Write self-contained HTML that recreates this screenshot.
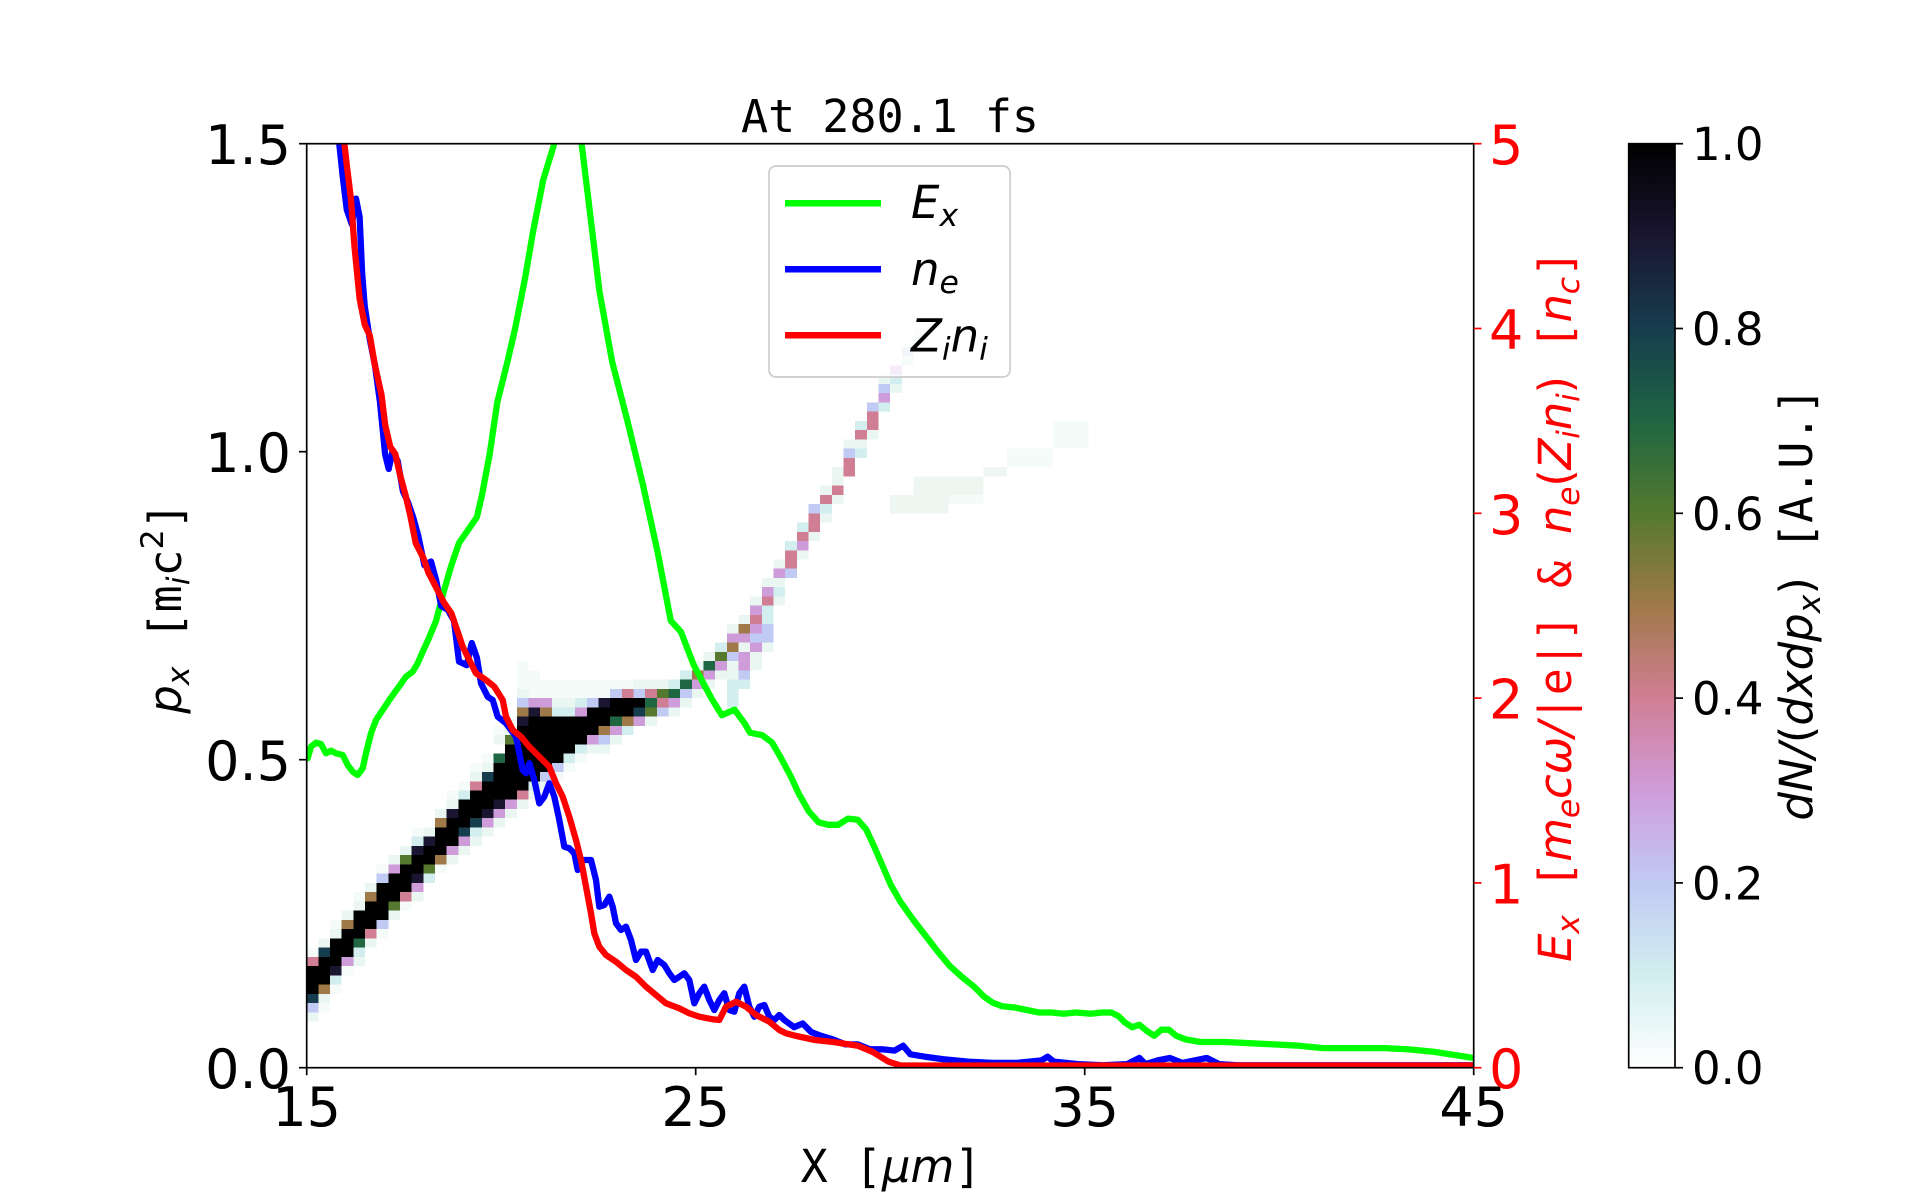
<!DOCTYPE html>
<html>
<head>
<meta charset="utf-8">
<style>
html,body{margin:0;padding:0;background:#fff;width:1920px;height:1200px;overflow:hidden}
svg{display:block}
.K{fill:#000}.N{fill:#1a1530}.T{fill:#163d4e}.G{fill:#1f6642}.O{fill:#54792f}.B{fill:#a07949}
.P{fill:#d07e93}.L{fill:#cf9cda}.U{fill:#c1caf3}.C{fill:#d2eeef}.W{fill:#e9f6f1}.F{fill:#f5fbf8}.Q{fill:#eef6f1}
.tk{font-family:"DejaVu Sans",sans-serif;font-size:54px}
.tk2{font-family:"DejaVu Sans",sans-serif;font-size:45px}
.mono{font-family:"DejaVu Sans Mono",monospace}
.it{font-family:"DejaVu Sans",sans-serif;font-style:italic}
.rm{font-family:"DejaVu Sans",sans-serif}
</style>
</head>
<body>
<svg width="1920" height="1200" viewBox="0 0 1920 1200">
<defs>
<clipPath id="ax"><rect x="306.7" y="143.7" width="1167" height="924"/></clipPath>
<linearGradient id="cb" x1="0" y1="1" x2="0" y2="0">
<stop offset="0" stop-color="#ffffff"/>
<stop offset="0.1" stop-color="#d2eeef"/>
<stop offset="0.2" stop-color="#c1caf3"/>
<stop offset="0.3" stop-color="#cf9cda"/>
<stop offset="0.4" stop-color="#d07e93"/>
<stop offset="0.5" stop-color="#a07949"/>
<stop offset="0.6" stop-color="#54792f"/>
<stop offset="0.7" stop-color="#1f6642"/>
<stop offset="0.8" stop-color="#163d4e"/>
<stop offset="0.9" stop-color="#1a1530"/>
<stop offset="1" stop-color="#000000"/>
</linearGradient>
</defs>

<!-- histogram -->
<g clip-path="url(#ax)">
<g transform="translate(306.7,1067.7) scale(11.67,-9.24)" shape-rendering="crispEdges">
<path class="F" d="M0 12h1v1h-1zM1 6h1v1h-1zM2 8h1v1h-1zM2 15h1v1h-1zM3 10h1v1h-1zM4 18h1v1h-1zM6 14h1v1h-1zM6 21h1v1h-1zM8 17h1v1h-1zM9 25h1v1h-1zM11 21h1v1h-1zM12 29h1v1h-1zM13 30h1v1h-1zM14 32h1v1h-1zM15 33h1v1h-1zM16 36h1v1h-1zM17 37h1v1h-1zM18 41h1v3h-1zM19 40h1v3h-1zM20 40h1v2h-1zM21 31h1v1h-1zM21 40h1v2h-1zM22 32h1v1h-1zM22 40h1v2h-1zM23 33h1v1h-1zM23 40h1v2h-1zM24 40h1v2h-1zM25 40h1v2h-1zM26 41h1v1h-1zM27 41h1v1h-1zM55 61h3v1h-3zM60 65h4v2h-4zM64 67h3v3h-3z"/>
<path class="Q" d="M50 60h5v2h-5zM52 62h6v2h-6zM58 64h2v1h-2z"/>
<path class="W" d="M0 5h1v1h-1zM1 7h1v1h-1zM1 13h1v1h-1zM2 14h1v1h-1zM3 16h1v1h-1zM4 11h1v1h-1zM4 17h1v1h-1zM5 13h1v1h-1zM5 19h1v1h-1zM7 16h1v1h-1zM7 22h1v1h-1zM8 23h1v1h-1zM9 18h1v1h-1zM10 25h1v1h-1zM11 27h1v1h-1zM12 22h1v1h-1zM12 28h1v1h-1zM13 23h1v1h-1zM14 24h1v1h-1zM14 31h1v1h-1zM15 25h1v1h-1zM15 32h1v1h-1zM16 26h1v1h-1zM16 35h1v1h-1zM17 27h1v1h-1zM17 36h1v1h-1zM18 28h1v1h-1zM18 40h1v1h-1zM19 29h1v1h-1zM20 30h1v1h-1zM21 39h1v1h-1zM22 39h1v1h-1zM24 34h1v1h-1zM25 34h1v1h-1zM26 35h1v1h-1zM28 41h1v1h-1zM29 37h1v1h-1zM29 41h1v1h-1zM30 41h1v1h-1zM31 38h1v1h-1zM32 39h1v1h-1zM33 40h1v1h-1zM33 43h1v1h-1zM34 41h1v1h-1zM34 44h1v1h-1zM35 42h1v1h-1zM36 42h1v2h-1zM36 47h1v1h-1zM37 45h1v1h-1zM37 48h1v1h-1zM38 43h1v2h-1zM38 50h1v1h-1zM39 45h1v1h-1zM39 52h1v1h-1zM40 50h1v1h-1zM40 52h1v1h-1zM40 54h1v1h-1zM42 55h1v1h-1zM43 57h1v1h-1zM44 59h1v1h-1zM44 62h1v1h-1zM45 61h1v1h-1zM45 63h1v2h-1zM46 67h1v1h-1zM47 67h1v1h-1zM48 68h1v1h-1zM49 74h1v1h-1zM50 73h1v1h-1zM52 79h1v1h-1z"/>
<path class="C" d="M2 9h1v1h-1zM4 12h1v1h-1zM9 24h1v1h-1zM10 20h1v1h-1zM13 29h1v1h-1zM14 25h1v1h-1zM19 30h1v1h-1zM21 38h1v1h-1zM22 33h1v1h-1zM22 38h1v1h-1zM23 34h1v1h-1zM23 39h1v1h-1zM27 36h1v1h-1zM31 41h1v1h-1zM32 42h1v1h-1zM35 45h1v1h-1zM36 39h1v3h-1zM37 41h1v1h-1zM39 48h1v2h-1zM40 51h1v1h-1zM41 56h1v1h-1zM42 58h1v1h-1zM44 60h1v1h-1zM47 66h1v1h-1zM47 69h1v1h-1zM49 71h1v1h-1zM50 74h1v1h-1zM51 76h1v1h-1zM52 78h1v1h-1z"/>
<path class="U" d="M0 6h1v1h-1zM6 15h1v1h-1zM6 20h1v1h-1zM18 39h1v1h-1zM20 31h1v1h-1zM21 32h1v1h-1zM24 39h1v1h-1zM25 35h1v1h-1zM26 40h1v1h-1zM28 40h1v1h-1zM30 38h1v1h-1zM32 40h1v1h-1zM36 44h1v1h-1zM37 42h1v1h-1zM38 46h1v1h-1zM39 46h1v2h-1zM41 53h1v1h-1zM43 60h1v1h-1zM46 66h1v1h-1zM48 71h1v1h-1zM49 73h1v1h-1zM51 77h1v1h-1z"/>
<path class="L" d="M3 11h1v1h-1zM7 21h1v1h-1zM9 19h1v1h-1zM12 23h1v1h-1zM13 24h1v1h-1zM15 26h1v1h-1zM16 27h1v1h-1zM17 28h1v1h-1zM19 39h1v1h-1zM20 39h1v1h-1zM23 38h1v1h-1zM24 35h1v1h-1zM26 36h1v1h-1zM28 37h1v1h-1zM31 39h1v1h-1zM33 41h1v1h-1zM34 42h1v1h-1zM35 43h1v1h-1zM36 46h1v1h-1zM37 43h1v2h-1zM37 46h1v1h-1zM38 45h1v1h-1zM38 47h1v1h-1zM38 49h1v1h-1zM39 51h1v1h-1zM40 53h1v1h-1zM42 56h1v1h-1zM49 72h1v1h-1zM50 75h1v1h-1z"/>
<path class="P" d="M0 11h1v1h-1zM5 14h1v1h-1zM8 18h1v1h-1zM14 30h1v1h-1zM18 29h1v1h-1zM27 40h1v1h-1zM29 40h1v1h-1zM30 39h1v1h-1zM38 48h1v1h-1zM39 50h1v1h-1zM41 54h1v2h-1zM42 57h1v1h-1zM43 58h1v2h-1zM44 61h1v1h-1zM45 62h1v1h-1zM46 64h1v2h-1zM47 68h1v1h-1zM48 69h1v2h-1z"/>
<path class="B" d="M1 8h1v1h-1zM3 15h1v1h-1zM5 18h1v1h-1zM11 22h1v1h-1zM11 26h1v1h-1zM18 38h1v1h-1zM20 38h1v1h-1zM25 36h1v1h-1zM27 37h1v1h-1zM33 42h1v1h-1zM36 45h1v1h-1zM37 47h1v1h-1z"/>
<path class="O" d="M7 17h1v1h-1zM8 22h1v1h-1zM10 21h1v1h-1zM17 35h1v1h-1zM29 38h1v1h-1zM30 40h1v1h-1zM35 44h1v1h-1z"/>
<path class="G" d="M4 13h1v1h-1zM16 33h1v1h-1zM26 37h1v1h-1zM29 39h1v1h-1zM31 40h1v1h-1zM32 41h1v1h-1zM34 43h1v1h-1z"/>
<path class="T" d="M0 7h1v1h-1zM1 12h1v1h-1zM13 25h1v1h-1zM14 26h1v1h-1zM15 31h1v1h-1zM28 38h1v1h-1z"/>
<path class="N" d="M2 10h1v1h-1zM9 20h1v1h-1zM9 23h1v1h-1zM10 24h1v1h-1zM12 27h1v1h-1zM15 27h1v1h-1zM16 28h1v1h-1zM18 37h1v1h-1zM19 38h1v1h-1zM25 39h1v1h-1z"/>
<path class="K" d="M0 8h1v3h-1zM1 9h1v3h-1zM2 11h1v3h-1zM3 12h1v3h-1zM4 14h1v3h-1zM5 15h1v3h-1zM6 16h1v4h-1zM7 18h1v3h-1zM8 19h1v3h-1zM9 21h1v2h-1zM10 22h1v2h-1zM11 23h1v3h-1zM12 24h1v3h-1zM13 26h1v3h-1zM14 27h1v3h-1zM15 28h1v3h-1zM16 29h1v4h-1zM17 29h1v6h-1zM18 30h1v7h-1zM19 31h1v7h-1zM20 32h1v6h-1zM21 33h1v5h-1zM22 34h1v4h-1zM23 35h1v3h-1zM24 36h1v3h-1zM25 37h1v2h-1zM26 38h1v2h-1zM27 38h1v2h-1zM28 39h1v1h-1z"/>
</g>

<!-- curves -->
<g fill="none" stroke-width="6.3" stroke-linejoin="round" stroke-linecap="round">
<polyline stroke="#00ff00" points="307.7,758.3 311,746.7 316,742.7 321,744 326,753.3 331,750.7 336,753.3 342.7,755 347.7,765 352.7,771.7 357.7,775 362.7,768.3 366,753.3 371,733.3 376,720 382.7,710 389.3,700 397.7,688.3 406,676.7 412.7,671.7 417.7,663.3 422.7,651.7 428.4,639.3 436.1,620.8 443.8,591.1 451.4,565.2 459,543 469.3,528.2 476.9,517.1 482,494.9 489.7,454 497.3,402.3 507.5,361.5 515.2,328.2 525.4,276.3 533,231.9 543.2,180 554.5,143 558,125 578,125 581.5,143 589.2,206 599.4,291 612.1,361.5 627.4,420.8 642.7,483.7 658,554 670.8,620.8 681,631.9 693.8,665.2 711.6,698.6 721.8,715.2 734.6,709.7 744.8,723.7 750,732.7 762.2,735.2 772,742.5 780.6,757.3 790.4,775.7 799,794.1 808.8,811.3 818.6,822.3 828.4,824.8 838.2,824.8 848,818.6 857.8,819.8 866.3,829.6 873.7,845.6 882.3,865.3 890.8,884.9 900.6,902.1 912.9,919.3 925.1,935.2 937.4,951.1 949.6,965.8 961.9,976.9 974.1,986.7 983.9,996.5 992.5,1002.6 1002.3,1006.3 1014.5,1007.5 1026.8,1010 1039,1012.5 1051.3,1012.5 1063.5,1013.7 1075.8,1012.5 1090.4,1013.7 1102.7,1012.5 1111.3,1012.5 1118.6,1016.2 1124.7,1022.3 1132.1,1027.2 1139.4,1024.8 1146.8,1030.9 1154.1,1035.8 1161.5,1029.7 1168.8,1029.7 1176.2,1035.8 1186,1039.5 1200.7,1042 1225.2,1042 1249.6,1043.2 1274.1,1044.4 1298.6,1045.7 1323.1,1048.1 1359.9,1048.1 1384.4,1048.1 1408.9,1049.4 1433.4,1051.8 1457.9,1055.5 1480,1059"/>
<polyline stroke="#0000ff" points="338,130 339.2,143 342.7,176.3 346.8,209.7 351.9,224.5 356,198.6 359.6,217 362.1,272.6 364.7,306 369.8,339.3 374.9,365.2 380,402.3 385.1,454.1 388.7,468.9 392.7,450.4 397.8,461.5 402.9,491.1 408,502.3 413.1,517.1 418.2,535.6 424.4,565.2 431,561.5 436.1,580 441.2,606 447.8,609.7 454,620.8 459,661.5 466.7,665.2 471.8,643 476.9,657.8 481,683.3 487.7,696.7 492.7,700 497.7,716.7 506,723.3 511,730 516,736.7 519.3,753.3 522.7,770 526,773.3 529.3,763.3 534.3,780 539.3,803.3 544.3,796.7 549.3,783.3 554.3,796.7 559.3,820 564.3,846.7 569.3,848.3 574.3,853.3 577.7,870 582.7,860 591,860 596,880 599.3,906.7 604.3,905 609.3,896.7 612.7,906.7 616,923.3 621,930 626,926.7 631,940 636,960 641,951.7 646,951.7 652.7,970 657.7,960 664.3,965 669.3,973.3 674.3,980 679.3,976.7 684.3,973.3 689.3,980 694.3,1003.3 699.3,993.3 704.3,986.7 709.3,1000 714.3,1010 719.3,1000 724.3,993.3 729.3,1010 734.3,1011.7 739.3,993.3 744.3,986.7 749.3,1006.7 754.3,1016.7 759.3,1006.7 764.3,1005 769.3,1016.7 774.3,1020 779.3,1015 784.3,1020 794.1,1027.2 802.7,1023.5 811.2,1032.1 821,1035.8 833.3,1039.5 845.5,1044.4 857.8,1044.4 870,1049.3 882.3,1049.3 894.5,1050.6 903.1,1045.7 910.4,1054.3 925.1,1056.7 943.5,1059.2 968,1061.6 992.5,1062.9 1017,1062.9 1041.5,1060.4 1047.6,1056.7 1053.7,1061.6 1078.2,1064.1 1102.7,1065.3 1127.2,1064.1 1139.4,1058 1145.5,1064.1 1157.8,1060.4 1170,1058 1182.3,1062.9 1194.5,1060.4 1206.8,1058 1219,1064.1 1237.4,1065.3 1480,1065.3"/>
<polyline stroke="#ff0000" points="343,130 344.3,143 346.8,165.2 350.9,198.6 354.5,246.7 359.6,298.6 364.7,324.5 369.8,335.6 374.9,365.2 381.5,394.9 385.1,424.5 390.2,446.7 395.3,454.1 400.4,476.3 405.5,494.9 410.6,517.1 415.7,543 423.3,557.8 428.4,572.6 436.1,587.4 443.8,602.3 451.4,613.4 459,635.6 462.7,646.7 469.3,660 476,673.3 486,680 494.3,686.7 502.7,700 506,716.7 512.7,730 521,736.7 529.3,746.7 539.3,756.7 549.3,766.7 556,783.3 562.7,796.7 569.3,816.7 576,840 581,860 586,886.7 591,913.3 594.3,933.3 599.3,946.7 606,955 616,961.7 626,970 636,976.7 646,986.7 656,995 666,1003.3 679.3,1008.3 689.3,1013.3 699.3,1016.7 712.7,1019.3 719.3,1020 726,1006.7 736,1001.7 746,1006.7 756,1015 769.3,1021.7 779.3,1030 786,1033.3 796.5,1036 814.9,1040 833.3,1042 857.8,1045.7 872.5,1051.8 888.4,1061.6 900.6,1065.5 1480,1065.5"/>
</g>
</g>

<!-- axes frame -->
<rect x="306.7" y="143.7" width="1167" height="924" fill="none" stroke="#000" stroke-width="1.7"/>

<!-- ticks -->
<g stroke="#000" stroke-width="1.7">
<line x1="299" y1="1067.7" x2="306.7" y2="1067.7"/>
<line x1="299" y1="759.7" x2="306.7" y2="759.7"/>
<line x1="299" y1="451.7" x2="306.7" y2="451.7"/>
<line x1="299" y1="143.7" x2="306.7" y2="143.7"/>
<line x1="306.7" y1="1067.7" x2="306.7" y2="1075.2"/>
<line x1="695.7" y1="1067.7" x2="695.7" y2="1075.2"/>
<line x1="1084.7" y1="1067.7" x2="1084.7" y2="1075.2"/>
<line x1="1473.7" y1="1067.7" x2="1473.7" y2="1075.2"/>
<line x1="1675" y1="1067.7" x2="1683" y2="1067.7"/>
<line x1="1675" y1="882.9" x2="1683" y2="882.9"/>
<line x1="1675" y1="698.1" x2="1683" y2="698.1"/>
<line x1="1675" y1="513.3" x2="1683" y2="513.3"/>
<line x1="1675" y1="328.5" x2="1683" y2="328.5"/>
<line x1="1675" y1="143.7" x2="1683" y2="143.7"/>
</g>
<g stroke="#ff0000" stroke-width="1.7">
<line x1="1473.7" y1="1067.7" x2="1481.5" y2="1067.7"/>
<line x1="1473.7" y1="882.9" x2="1481.5" y2="882.9"/>
<line x1="1473.7" y1="698.1" x2="1481.5" y2="698.1"/>
<line x1="1473.7" y1="513.3" x2="1481.5" y2="513.3"/>
<line x1="1473.7" y1="328.5" x2="1481.5" y2="328.5"/>
<line x1="1473.7" y1="143.7" x2="1481.5" y2="143.7"/>
</g>

<!-- tick labels -->
<g class="tk" fill="#000" text-anchor="end">
<text x="291" y="1088.2">0.0</text>
<text x="291" y="780.2">0.5</text>
<text x="291" y="472.2">1.0</text>
<text x="291" y="164.2">1.5</text>
</g>
<g class="tk" fill="#000" text-anchor="middle">
<text x="306.7" y="1126">15</text>
<text x="695.7" y="1126">25</text>
<text x="1084.7" y="1126">35</text>
<text x="1473.7" y="1126">45</text>
</g>
<g class="tk" fill="#ff0000">
<text x="1489" y="1088.2">0</text>
<text x="1489" y="903.4">1</text>
<text x="1489" y="718.6">2</text>
<text x="1489" y="533.8">3</text>
<text x="1489" y="349">4</text>
<text x="1489" y="164.2">5</text>
</g>
<g class="tk2" fill="#000">
<text x="1692" y="1084.2">0.0</text>
<text x="1692" y="899.4">0.2</text>
<text x="1692" y="714.6">0.4</text>
<text x="1692" y="529.8">0.6</text>
<text x="1692" y="345">0.8</text>
<text x="1692" y="160.2">1.0</text>
</g>

<!-- title -->
<text x="890" y="132" text-anchor="middle" class="mono" font-size="45" fill="#000">At 280.1 fs</text>

<!-- x label -->
<text x="891" y="1182" text-anchor="middle" font-size="45" fill="#000" style="white-space:pre"><tspan class="mono">X [</tspan><tspan class="it">μm</tspan><tspan class="mono">]</tspan></text>

<!-- y label left -->
<text transform="translate(181,608) rotate(-90)" text-anchor="middle" font-size="45" fill="#000" style="white-space:pre"><tspan class="it">p</tspan><tspan class="it" font-size="31.5" dy="8">x</tspan><tspan class="mono" dy="-8"> [m</tspan><tspan class="it" font-size="31.5" dy="8">i</tspan><tspan class="mono" dy="-8">c</tspan><tspan class="rm" font-size="31.5" dy="-18">2</tspan><tspan class="mono" dy="18">]</tspan></text>

<!-- y label right -->
<text transform="translate(1571,606) rotate(-90)" text-anchor="middle" font-size="45" fill="#ff0000" textLength="712" lengthAdjust="spacing" style="white-space:pre"><tspan class="it">E</tspan><tspan class="it" font-size="31.5" dy="8">x</tspan><tspan class="mono" dy="-8"> [</tspan><tspan class="it">m</tspan><tspan class="it" font-size="31.5" dy="8">e</tspan><tspan class="it" dy="-8">cω/</tspan><tspan class="mono">|e|] &amp; </tspan><tspan class="it">n</tspan><tspan class="it" font-size="31.5" dy="8">e</tspan><tspan class="rm" dy="-8">(</tspan><tspan class="it">Z</tspan><tspan class="it" font-size="31.5" dy="8">i</tspan><tspan class="it" dy="-8">n</tspan><tspan class="it" font-size="31.5" dy="8">i</tspan><tspan class="rm" dy="-8">)</tspan><tspan class="mono"> [</tspan><tspan class="it">n</tspan><tspan class="it" font-size="31.5" dy="8">c</tspan><tspan class="mono" dy="-8">]</tspan></text>

<!-- colorbar -->
<rect x="1628.7" y="143.7" width="46.3" height="924" fill="url(#cb)" stroke="#000" stroke-width="1.7"/>
<text transform="translate(1812,604) rotate(-90)" text-anchor="middle" font-size="45" fill="#000" style="white-space:pre"><tspan class="it">dN/</tspan><tspan class="rm">(</tspan><tspan class="it">dxdp</tspan><tspan class="it" font-size="31.5" dy="8">x</tspan><tspan class="rm" dy="-8">)</tspan><tspan class="mono"> [A.U.]</tspan></text>

<!-- legend -->
<rect x="769" y="166" width="241" height="211" rx="7" ry="7" fill="#ffffff" fill-opacity="0.8" stroke="#cccccc" stroke-width="1.7"/>
<g stroke-width="6.5">
<line x1="785" y1="203.3" x2="881" y2="203.3" stroke="#00ff00"/>
<line x1="785" y1="269.3" x2="881" y2="269.3" stroke="#0000ff"/>
<line x1="785" y1="335.3" x2="881" y2="335.3" stroke="#ff0000"/>
</g>
<g font-size="45" fill="#000">
<text x="911" y="218" class="it">E<tspan font-size="31.5" dy="8">x</tspan></text>
<text x="911" y="285" class="it">n<tspan font-size="31.5" dy="8">e</tspan></text>
<text x="911" y="351.5" class="it">Z<tspan font-size="31.5" dy="8">i</tspan><tspan dy="-8">n</tspan><tspan font-size="31.5" dy="8">i</tspan></text>
</g>
</svg>
</body>
</html>
